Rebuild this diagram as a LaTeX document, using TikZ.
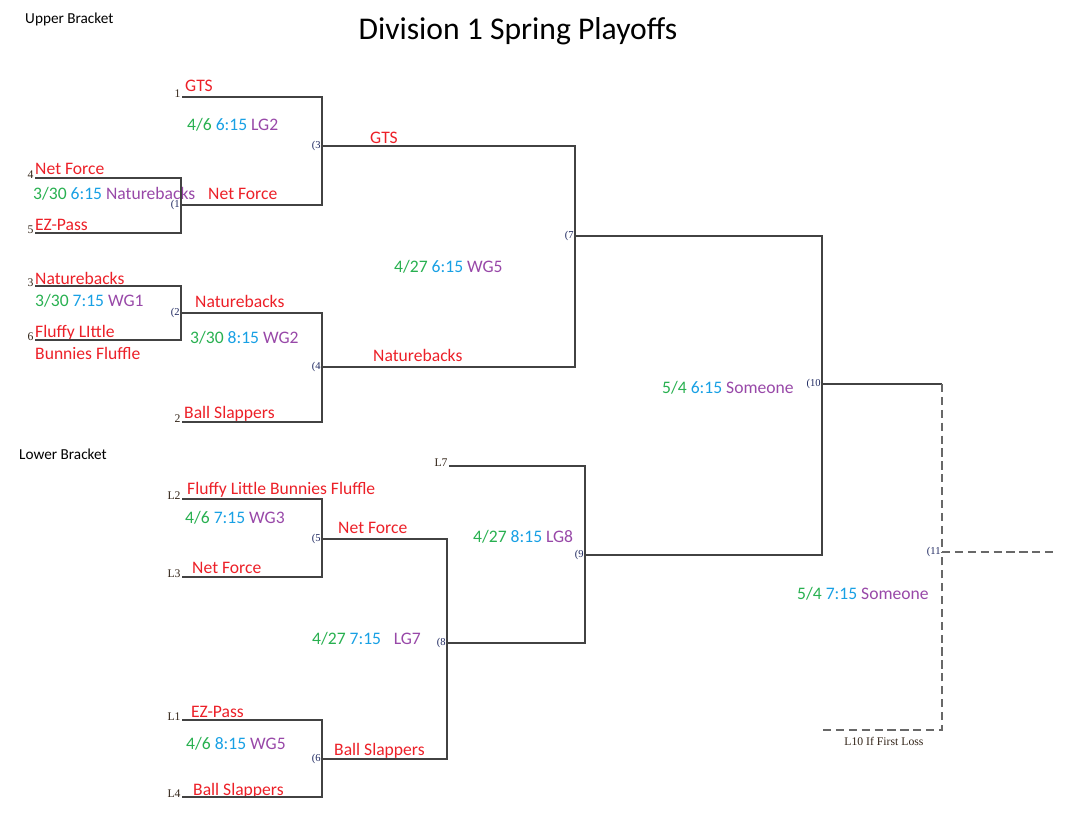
\documentclass[tikz,border=0pt]{standalone}
\usepackage{fontspec}
\setmainfont{Carlito}
\newfontfamily\seedfont{Liberation Serif}
\usepackage{tikz}
\usetikzlibrary{positioning}
\definecolor{teamred}{RGB}{236,32,40}
\definecolor{dategreen}{RGB}{40,176,80}
\definecolor{timeblue}{RGB}{24,160,228}
\definecolor{wherepurple}{RGB}{152,72,168}
\definecolor{seedink}{RGB}{50,36,24}
\definecolor{gameink}{RGB}{30,40,96}
\definecolor{lineink}{RGB}{66,66,66}
\newcommand{\sched}[3]{\textcolor{dategreen}{#1} \textcolor{timeblue}{#2} \textcolor{wherepurple}{#3}}
\tikzstyle{team} = [inner sep=0pt, anchor=base west, text=teamred, font=\fontsize{15}{17}\selectfont]
\tikzstyle{when} = [inner sep=0pt, anchor=base west, font=\fontsize{15}{17}\selectfont]
\tikzstyle{seed} = [inner sep=1pt, anchor=base east, text=seedink, font=\seedfont\fontsize{10}{11}\selectfont]
\tikzstyle{gameno} = [inner sep=1pt, anchor=east, text=gameink, font=\seedfont\fontsize{9}{10}\selectfont]
\tikzstyle{bline} = [draw=lineink, line width=1pt]
\tikzstyle{dline} = [draw=lineink!80, line width=1pt, dash pattern=on 7pt off 4pt]

\begin{document}
\begin{tikzpicture}[x=0.03cm, y=-0.03cm]

    \useasboundingbox (0,0) rectangle (1091,835);

    % Line ends
    \coordinate (s1) at (182,97);
    \coordinate (s4) at (35,178);
    \coordinate (s5) at (35,233);
    \coordinate (s3) at (35,286);
    \coordinate (s6) at (35,340);
    \coordinate (s2) at (182,422);
    \coordinate (l2) at (182,499);
    \coordinate (l3) at (182,577);
    \coordinate (l1) at (182,720);
    \coordinate (l4) at (182,797);
    \coordinate (l7) at (449,466);
    \coordinate (l10) at (823,730);
    \coordinate (champ) at (1055,552);

    % Games
    \coordinate (m1) at (181,205);
    \coordinate (m2) at (181,313);
    \coordinate (m3) at (322,146);
    \coordinate (m4) at (322,367);
    \coordinate (m5) at (322,539);
    \coordinate (m6) at (322,759);
    \coordinate (m7) at (575,236);
    \coordinate (m8) at (447,643);
    \coordinate (m9) at (585,555);
    \coordinate (m10) at (822,384);
    \coordinate (m11) at (942,552);

    % Headings
    \node (title) [inner sep=0pt, anchor=base, font=\fontsize{27}{30}\selectfont] at (518,39) {Division 1 Spring Playoffs};
    \node (upper) [inner sep=0pt, anchor=base west, font=\fontsize{13}{15}\selectfont] at (25,23) {Upper Bracket};
    \node (lower) [inner sep=0pt, anchor=base west, font=\fontsize{13}{15}\selectfont] at (19,459) {Lower Bracket};

    % Seeds
    \node (n1) [seed] at (s1) {1};
    \node (n4) [seed] at (s4) {4};
    \node (n5) [seed] at (s5) {5};
    \node (n3) [seed] at (s3) {3};
    \node (n6) [seed] at (s6) {6};
    \node (n2) [seed] at (s2) {2};
    \node (nl2) [seed] at (l2) {L2};
    \node (nl3) [seed] at (l3) {L3};
    \node (nl1) [seed] at (l1) {L1};
    \node (nl4) [seed] at (l4) {L4};
    \node (nl7) [seed] at (l7) {L7};
    \node (nl10) [seed, anchor=base west] at (843,745) {L10 If First Loss};

    % Game numbers
    \node (g1) [gameno] at (m1) {(1};
    \node (g2) [gameno] at (m2) {(2};
    \node (g3) [gameno] at (m3) {(3};
    \node (g4) [gameno] at (m4) {(4};
    \node (g5) [gameno] at (m5) {(5};
    \node (g6) [gameno] at (m6) {(6};
    \node (g7) [gameno] at (m7) {(7};
    \node (g8) [gameno] at (m8) {(8};
    \node (g9) [gameno] at (m9) {(9};
    \node (g10) [gameno] at (m10) {(10};
    \node (g11) [gameno] at (m11) {(11};

    % Teams
    \node (tGTS) [team] at (185,91) {GTS};
    \node (tNet) [team] at (35,174) {Net Force};
    \node (tEZ) [team] at (35,230) {EZ-Pass};
    \node (tNat) [team] at (35,284) {Naturebacks};
    \node (tFluffy) [team] at (35,337) {Fluffy LIttle};
    \node (tFluffyb) [team] at (35,359) {Bunnies Fluffle};
    \node (tBall) [team] at (184,418) {Ball Slappers};
    \node (w1) [team] at (208,199) {Net Force};
    \node (w2) [team] at (195,307) {Naturebacks};
    \node (w3) [team] at (370,143) {GTS};
    \node (w4) [team] at (373,361) {Naturebacks};
    \node (tL2) [team] at (187,494) {Fluffy Little Bunnies Fluffle};
    \node (tL3) [team] at (192,573) {Net Force};
    \node (tL1) [team] at (191,717) {EZ-Pass};
    \node (tL4) [team] at (193,795) {Ball Slappers};
    \node (w5) [team] at (338,533) {Net Force};
    \node (w6) [team] at (334,755) {Ball Slappers};

    % Schedule
    \node (d1) [when] at (33,199) {\sched{3/30}{6:15}{Naturebacks}};
    \node (d2) [when] at (35,306) {\sched{3/30}{7:15}{WG1}};
    \node (d3) [when] at (187,130) {\sched{4/6}{6:15}{LG2}};
    \node (d4) [when] at (190,343) {\sched{3/30}{8:15}{WG2}};
    \node (d5) [when] at (185,523) {\sched{4/6}{7:15}{WG3}};
    \node (d6) [when] at (186,749) {\sched{4/6}{8:15}{WG5}};
    \node (d7) [when] at (394,272) {\sched{4/27}{6:15}{WG5}};
    \node (d8) [when] at (312,644) {\sched{4/27}{7:15}{\hspace{0.5em}LG7}};
    \node (d9) [when] at (473,542) {\sched{4/27}{8:15}{LG8}};
    \node (d10) [when] at (662,393) {\sched{5/4}{6:15}{Someone}};
    \node (d11) [when] at (797,599) {\sched{5/4}{7:15}{Someone}};

    % Upper bracket
    \draw [bline] (s4) -| (m1);
    \draw [bline] (s5) -| (m1);
    \draw [bline] (s3) -| (m2);
    \draw [bline] (s6) -| (m2);
    \draw [bline] (s1) -| (m3);
    \draw [bline] (m1) -| (m3);
    \draw [bline] (m2) -| (m4);
    \draw [bline] (s2) -| (m4);
    \draw [bline] (m3) -| (m7);
    \draw [bline] (m4) -| (m7);
    \draw [bline] (m7) -| (m10);

    % Lower bracket
    \draw [bline] (l2) -| (m5);
    \draw [bline] (l3) -| (m5);
    \draw [bline] (l1) -| (m6);
    \draw [bline] (l4) -| (m6);
    \draw [bline] (m5) -| (m8);
    \draw [bline] (m6) -| (m8);
    \draw [bline] (l7) -| (m9);
    \draw [bline] (m8) -| (m9);
    \draw [bline] (m9) -| (m10);

    % Final
    \draw [bline] (m10) -- (m10 -| m11);
    \draw [dline] (m10 -| m11) -- (m11);
    \draw [dline] (l10) -| (m11);
    \draw [dline] (m11) -- (champ);

\end{tikzpicture}
\end{document}
